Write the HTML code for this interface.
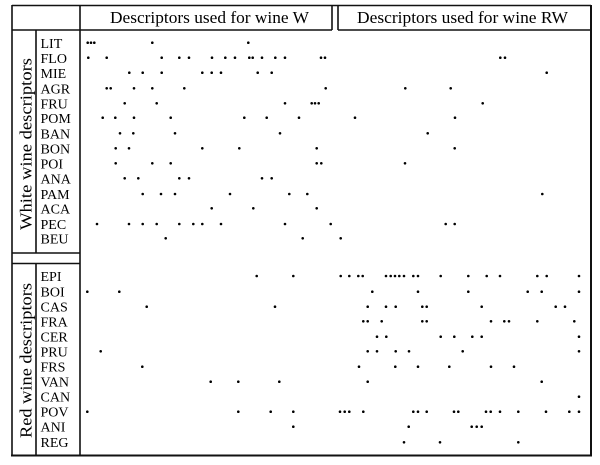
<!DOCTYPE html>
<html>
<head>
<meta charset="utf-8">
<style>
html,body{margin:0;padding:0;background:#fff;}
svg{display:block;}
text{font-family:"Liberation Serif",serif;fill:#000;}
</style>
</head>
<body>
<svg width="600" height="465" viewBox="0 0 600 465" xmlns="http://www.w3.org/2000/svg">
<rect width="600" height="465" fill="#fff"/>
<g stroke="#111" stroke-width="1.6" fill="none">
<line x1="12" y1="5.5" x2="591" y2="5.5"/>
<line x1="12" y1="5" x2="12" y2="456"/>
<line x1="12" y1="30" x2="332" y2="30"/>
<line x1="338" y1="30" x2="591" y2="30"/>
<line x1="332" y1="5" x2="332" y2="30"/>
<line x1="338" y1="5" x2="338" y2="30"/>
<line x1="80" y1="5" x2="80" y2="456"/>
<line x1="591" y1="5" x2="591" y2="456" stroke-width="2"/>
<line x1="11" y1="455.5" x2="592" y2="455.5" stroke-width="2"/>
<line x1="12" y1="253" x2="80" y2="253"/>
<line x1="12" y1="263.5" x2="80" y2="263.5"/>
<line x1="36" y1="30" x2="36" y2="253"/>
<line x1="36" y1="263.5" x2="36" y2="455"/>
</g>
<text x="110" y="23" font-size="17" textLength="199" lengthAdjust="spacingAndGlyphs">Descriptors used for wine W</text>
<text x="357" y="23" font-size="17" textLength="211" lengthAdjust="spacingAndGlyphs">Descriptors used for wine RW</text>
<text transform="translate(31.5,144) rotate(-90)" font-size="17" text-anchor="middle" textLength="172" lengthAdjust="spacingAndGlyphs">White wine descriptors</text>
<text transform="translate(31.5,360.5) rotate(-90)" font-size="17" text-anchor="middle" textLength="155" lengthAdjust="spacingAndGlyphs">Red wine descriptors</text>
<g font-size="14">
<text x="40.5" y="48">LIT</text>
<text x="40.5" y="63">FLO</text>
<text x="40.5" y="78">MIE</text>
<text x="40.5" y="93.5">AGR</text>
<text x="40.5" y="108.5">FRU</text>
<text x="40.5" y="123">POM</text>
<text x="40.5" y="138.5">BAN</text>
<text x="40.5" y="153.5">BON</text>
<text x="40.5" y="168.5">POI</text>
<text x="40.5" y="183.5">ANA</text>
<text x="40.5" y="199">PAM</text>
<text x="40.5" y="213.5">ACA</text>
<text x="40.5" y="229">PEC</text>
<text x="40.5" y="243.5">BEU</text>
<text x="40.5" y="281">EPI</text>
<text x="40.5" y="296.5">BOI</text>
<text x="40.5" y="311.5">CAS</text>
<text x="40.5" y="326.5">FRA</text>
<text x="40.5" y="341.5">CER</text>
<text x="40.5" y="356.5">PRU</text>
<text x="40.5" y="371.5">FRS</text>
<text x="40.5" y="386.5">VAN</text>
<text x="40.5" y="401.5">CAN</text>
<text x="40.5" y="416.5">POV</text>
<text x="40.5" y="431.5">ANI</text>
<text x="40.5" y="447">REG</text>
</g>
<g fill="#000">
<g transform="translate(0,42.7)"><circle cx="87.7" r="1.3"/><circle cx="91" r="1.3"/><circle cx="94.3" r="1.3"/><circle cx="152.3" r="1.3"/><circle cx="248.3" r="1.3"/></g>
<g transform="translate(0,57.7)"><circle cx="88.3" r="1.3"/><circle cx="106.7" r="1.3"/><circle cx="161.7" r="1.3"/><circle cx="179.3" r="1.3"/><circle cx="189" r="1.3"/><circle cx="212" r="1.3"/><circle cx="225.3" r="1.3"/><circle cx="235" r="1.3"/><circle cx="249.3" r="1.3"/><circle cx="252.7" r="1.3"/><circle cx="262" r="1.3"/><circle cx="275.3" r="1.3"/><circle cx="285" r="1.3"/><circle cx="321" r="1.3"/><circle cx="325" r="1.3"/><circle cx="500.3" r="1.3"/><circle cx="505" r="1.3"/></g>
<g transform="translate(0,72.7)"><circle cx="129.3" r="1.3"/><circle cx="142.7" r="1.3"/><circle cx="161.7" r="1.3"/><circle cx="202.3" r="1.3"/><circle cx="211.7" r="1.3"/><circle cx="221" r="1.3"/><circle cx="257.7" r="1.3"/><circle cx="271.7" r="1.3"/><circle cx="546.7" r="1.3"/></g>
<g transform="translate(0,88.3)"><circle cx="106.7" r="1.3"/><circle cx="110.7" r="1.3"/><circle cx="134" r="1.3"/><circle cx="152.3" r="1.3"/><circle cx="184.3" r="1.3"/><circle cx="325.7" r="1.3"/><circle cx="405.3" r="1.3"/><circle cx="450.7" r="1.3"/></g>
<g transform="translate(0,103.3)"><circle cx="124.7" r="1.3"/><circle cx="156.7" r="1.3"/><circle cx="285" r="1.3"/><circle cx="311.7" r="1.3"/><circle cx="315" r="1.3"/><circle cx="318.7" r="1.3"/><circle cx="482.7" r="1.3"/></g>
<g transform="translate(0,117.7)"><circle cx="102.7" r="1.3"/><circle cx="115.3" r="1.3"/><circle cx="134" r="1.3"/><circle cx="170.7" r="1.3"/><circle cx="244.3" r="1.3"/><circle cx="266.7" r="1.3"/><circle cx="299" r="1.3"/><circle cx="355" r="1.3"/><circle cx="455" r="1.3"/></g>
<g transform="translate(0,133.3)"><circle cx="120" r="1.3"/><circle cx="133.3" r="1.3"/><circle cx="175" r="1.3"/><circle cx="280" r="1.3"/><circle cx="427.7" r="1.3"/></g>
<g transform="translate(0,148.3)"><circle cx="115.7" r="1.3"/><circle cx="129" r="1.3"/><circle cx="202.3" r="1.3"/><circle cx="239.3" r="1.3"/><circle cx="316.7" r="1.3"/><circle cx="454.7" r="1.3"/></g>
<g transform="translate(0,163.3)"><circle cx="115.7" r="1.3"/><circle cx="152.3" r="1.3"/><circle cx="170.7" r="1.3"/><circle cx="316.7" r="1.3"/><circle cx="321.3" r="1.3"/><circle cx="405" r="1.3"/></g>
<g transform="translate(0,178.3)"><circle cx="124.7" r="1.3"/><circle cx="138.3" r="1.3"/><circle cx="179.3" r="1.3"/><circle cx="189" r="1.3"/><circle cx="262" r="1.3"/><circle cx="271.7" r="1.3"/></g>
<g transform="translate(0,194)"><circle cx="142.7" r="1.3"/><circle cx="161" r="1.3"/><circle cx="175" r="1.3"/><circle cx="230" r="1.3"/><circle cx="289.3" r="1.3"/><circle cx="307.3" r="1.3"/><circle cx="542.3" r="1.3"/></g>
<g transform="translate(0,208.3)"><circle cx="211.7" r="1.3"/><circle cx="253.3" r="1.3"/><circle cx="316.7" r="1.3"/></g>
<g transform="translate(0,224)"><circle cx="97" r="1.3"/><circle cx="129" r="1.3"/><circle cx="142.7" r="1.3"/><circle cx="156.7" r="1.3"/><circle cx="179.3" r="1.3"/><circle cx="193.3" r="1.3"/><circle cx="202.3" r="1.3"/><circle cx="221" r="1.3"/><circle cx="285" r="1.3"/><circle cx="330.7" r="1.3"/><circle cx="445.7" r="1.3"/><circle cx="454.7" r="1.3"/></g>
<g transform="translate(0,238.3)"><circle cx="165.7" r="1.3"/><circle cx="302.7" r="1.3"/><circle cx="340.7" r="1.3"/></g>
<g transform="translate(0,276)"><circle cx="256.7" r="1.3"/><circle cx="293.3" r="1.3"/><circle cx="340.7" r="1.3"/><circle cx="349.3" r="1.3"/><circle cx="358.3" r="1.3"/><circle cx="362.7" r="1.3"/><circle cx="386" r="1.3"/><circle cx="390.7" r="1.3"/><circle cx="395" r="1.3"/><circle cx="399.3" r="1.3"/><circle cx="404" r="1.3"/><circle cx="413.3" r="1.3"/><circle cx="418" r="1.3"/><circle cx="440.7" r="1.3"/><circle cx="468.3" r="1.3"/><circle cx="486.7" r="1.3"/><circle cx="500" r="1.3"/><circle cx="537.3" r="1.3"/><circle cx="546.7" r="1.3"/><circle cx="579" r="1.3"/></g>
<g transform="translate(0,291.7)"><circle cx="87.3" r="1.3"/><circle cx="119.3" r="1.3"/><circle cx="372.3" r="1.3"/><circle cx="418" r="1.3"/><circle cx="468.3" r="1.3"/><circle cx="527.7" r="1.3"/><circle cx="541.7" r="1.3"/><circle cx="579" r="1.3"/></g>
<g transform="translate(0,306.7)"><circle cx="146.7" r="1.3"/><circle cx="275" r="1.3"/><circle cx="367.7" r="1.3"/><circle cx="386" r="1.3"/><circle cx="395.7" r="1.3"/><circle cx="422.3" r="1.3"/><circle cx="426.7" r="1.3"/><circle cx="481.7" r="1.3"/><circle cx="555.7" r="1.3"/><circle cx="565" r="1.3"/></g>
<g transform="translate(0,321.3)"><circle cx="363.3" r="1.3"/><circle cx="367.7" r="1.3"/><circle cx="381.7" r="1.3"/><circle cx="422.3" r="1.3"/><circle cx="426.7" r="1.3"/><circle cx="491" r="1.3"/><circle cx="504.3" r="1.3"/><circle cx="509" r="1.3"/><circle cx="537.3" r="1.3"/><circle cx="574.3" r="1.3"/></g>
<g transform="translate(0,336.7)"><circle cx="377" r="1.3"/><circle cx="386.3" r="1.3"/><circle cx="440.7" r="1.3"/><circle cx="454.3" r="1.3"/><circle cx="472.3" r="1.3"/><circle cx="481.7" r="1.3"/><circle cx="579" r="1.3"/></g>
<g transform="translate(0,351.3)"><circle cx="100.7" r="1.3"/><circle cx="367.7" r="1.3"/><circle cx="377" r="1.3"/><circle cx="395.7" r="1.3"/><circle cx="409" r="1.3"/><circle cx="462.7" r="1.3"/><circle cx="579" r="1.3"/></g>
<g transform="translate(0,366.7)"><circle cx="142.3" r="1.3"/><circle cx="359" r="1.3"/><circle cx="395.3" r="1.3"/><circle cx="418" r="1.3"/><circle cx="449.3" r="1.3"/><circle cx="491" r="1.3"/><circle cx="514" r="1.3"/></g>
<g transform="translate(0,381.7)"><circle cx="210.7" r="1.3"/><circle cx="238.3" r="1.3"/><circle cx="279.3" r="1.3"/><circle cx="367.7" r="1.3"/><circle cx="541.7" r="1.3"/></g>
<g transform="translate(0,396.7)"><circle cx="579" r="1.3"/></g>
<g transform="translate(0,411.7)"><circle cx="87.3" r="1.3"/><circle cx="238.3" r="1.3"/><circle cx="270.7" r="1.3"/><circle cx="293.3" r="1.3"/><circle cx="340" r="1.3"/><circle cx="344.7" r="1.3"/><circle cx="349.3" r="1.3"/><circle cx="363.3" r="1.3"/><circle cx="413.3" r="1.3"/><circle cx="418" r="1.3"/><circle cx="426.7" r="1.3"/><circle cx="454" r="1.3"/><circle cx="458.3" r="1.3"/><circle cx="486" r="1.3"/><circle cx="490.7" r="1.3"/><circle cx="500" r="1.3"/><circle cx="518.3" r="1.3"/><circle cx="546" r="1.3"/><circle cx="569.3" r="1.3"/><circle cx="579" r="1.3"/></g>
<g transform="translate(0,426.7)"><circle cx="293.3" r="1.3"/><circle cx="408.7" r="1.3"/><circle cx="471.7" r="1.3"/><circle cx="476.7" r="1.3"/><circle cx="481.7" r="1.3"/></g>
<g transform="translate(0,442.3)"><circle cx="404" r="1.3"/><circle cx="440" r="1.3"/><circle cx="518.3" r="1.3"/></g>
</g>
</svg>
</body>
</html>
